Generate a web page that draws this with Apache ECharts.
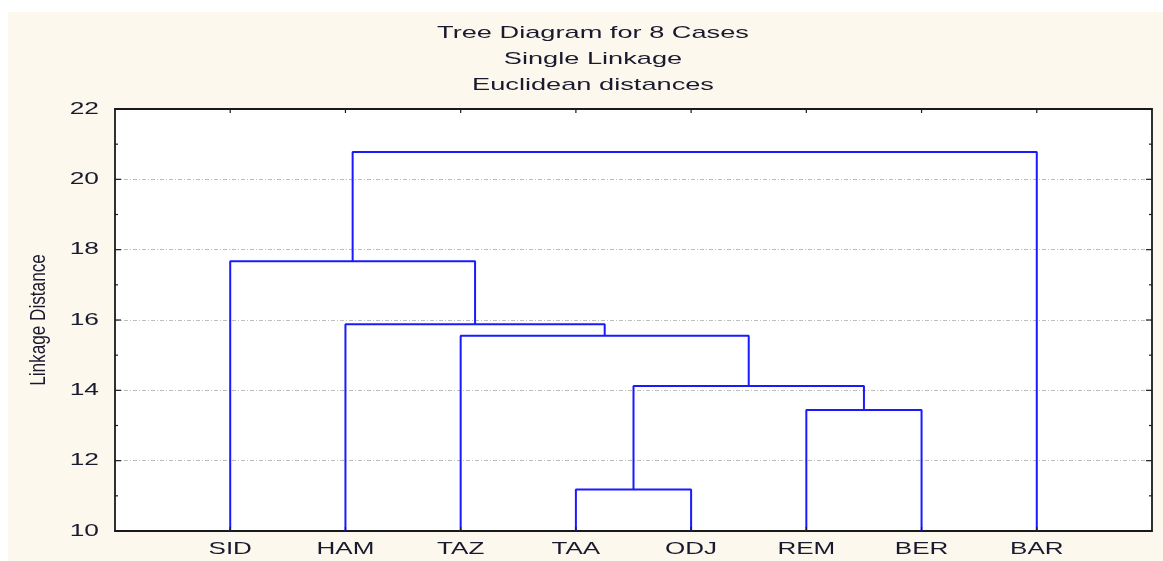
<!DOCTYPE html>
<html><head><meta charset="utf-8">
<script src="https://cdn.jsdelivr.net/npm/echarts@6/dist/echarts.min.js"></script>
<style>html,body{margin:0;padding:0;background:#fff}#c{width:1163px;height:561px}</style>
</head><body><div id="c"></div>
<script>
// Leaves (cases) in dendrogram order
const leaves = ['SID', 'HAM', 'TAZ', 'TAA', 'ODJ', 'REM', 'BER', 'BAR'];
// Merges: cluster ids (0-7 leaves, 8+ merges in order), linkage distances
const mergeA = [3, 5, 8, 2, 1, 0, 13];
const mergeB = [4, 6, 9, 10, 11, 12, 7];
const mergeHeight = [11.18, 13.44, 14.12, 15.55, 15.88, 17.67, 20.78];
const yTicks = [10, 12, 14, 16, 18, 20, 22];
const yMinorTicks = [11, 13, 15, 17, 19, 21];
const titleLines = ['Tree Diagram for 8 Cases', 'Single Linkage', 'Euclidean distances'];
const yName = 'Linkage Distance';

const nodeX = leaves.map((_, i) => i + 1);
const nodeH = leaves.map(() => 10);
const series = [];
mergeA.forEach((a, k) => {
  const b = mergeB[k], h = mergeHeight[k];
  series.push({
    type: 'line', symbol: 'none', silent: true, animation: false,
    lineStyle: { color: '#1a1aff', width: 2 },
    data: [[nodeX[a], nodeH[a]], [nodeX[a], h], [nodeX[b], h], [nodeX[b], nodeH[b]]]
  });
  nodeX.push((nodeX[a] + nodeX[b]) / 2);
  nodeH.push(h);
});

const W = 1163, H = 561, L = 115, T = 109, R = 11, B = 30;
const chart = echarts.init(document.getElementById('c'), null, { renderer: 'canvas' });
const frame = { show: true, onZero: false, lineStyle: { color: '#1a1a1a', width: 1.8 } };
const xBase = { type: 'value', min: 0, max: 9, interval: 1, splitLine: { show: false }, axisLabel: { show: false }, axisTick: { show: false }, axisLine: frame };
const yBase = { type: 'value', min: 10, max: 22, interval: 2, axisLabel: { show: false }, axisTick: { show: false }, axisLine: frame };
const textColor = '#1a1a2e';
const font17 = '17px "Liberation Sans", Arial, sans-serif';

chart.setOption({
  animation: false,
  backgroundColor: '#fff',
  grid: { left: L, top: T, right: R, bottom: B, show: true, backgroundColor: '#fff', borderWidth: 0 },
  xAxis: [{ ...xBase, position: 'bottom' }, { ...xBase, position: 'top' }],
  yAxis: [
    { ...yBase, position: 'left', splitLine: { show: true, lineStyle: { color: '#bdbdbd', type: [4, 2, 1, 2], width: 1 } } },
    { ...yBase, position: 'right', splitLine: { show: false } }
  ],
  series
});

const px = (x, y) => chart.convertToPixel({ seriesIndex: 0 }, [x, y]);
const tickStyle = { stroke: '#1a1a1a', lineWidth: 1.2 };
const g = [{ type: 'rect', z: -10, silent: true, shape: { x: 8, y: 12, width: W - 8, height: H - 12 }, style: { fill: '#fdf8ee' } }];
const line = (x1, y1, x2, y2) => g.push({ type: 'line', silent: true, z: 50, shape: { x1, y1, x2, y2 }, style: tickStyle });
// inward ticks on all four frame edges
const yTop = px(0, 22)[1], yBot = px(0, 10)[1], xLeft = px(0, 10)[0], xRight = px(9, 10)[0];
yTicks.concat(yMinorTicks).forEach(v => {
  const len = yTicks.includes(v) ? 6 : 3;
  const y = px(0, v)[1];
  line(xLeft, y, xLeft + len, y);
  line(xRight, y, xRight - len, y);
});
leaves.forEach((_, i) => {
  const x = px(i + 1, 10)[0];
  line(x, yTop, x, yTop + 4);
  line(x, yBot, x, yBot - 4);
});
titleLines.forEach((t, i) => g.push({
  type: 'text', x: 593, y: 33 + i * 26, scaleX: 1.6, silent: true,
  style: { text: t, font: font17, fill: textColor, align: 'center', verticalAlign: 'middle', textAlign: 'center', textVerticalAlign: 'middle' }
}));
leaves.forEach((name, i) => {
  const p = px(i + 1, yTicks[0]);
  g.push({ type: 'text', x: p[0], y: p[1] + 18, scaleX: 1.53, silent: true,
    style: { text: name, font: font17, fill: textColor, align: 'center', verticalAlign: 'middle', textAlign: 'center', textVerticalAlign: 'middle' } });
});
yTicks.forEach(v => {
  const p = px(0, v);
  g.push({ type: 'text', x: p[0] - 16, y: p[1], scaleX: 1.55, silent: true,
    style: { text: String(v), font: font17, fill: textColor, align: 'right', verticalAlign: 'middle', textAlign: 'right', textVerticalAlign: 'middle' } });
});
g.push({ type: 'text', x: 39, y: (yTop + yBot) / 2, rotation: Math.PI / 2, scaleX: 0.78, silent: true,
  style: { text: yName, font: '22px "Liberation Sans", Arial, sans-serif', fill: textColor, align: 'center', verticalAlign: 'middle', textAlign: 'center', textVerticalAlign: 'middle' } });
chart.setOption({ graphic: g });
</script></body></html>
